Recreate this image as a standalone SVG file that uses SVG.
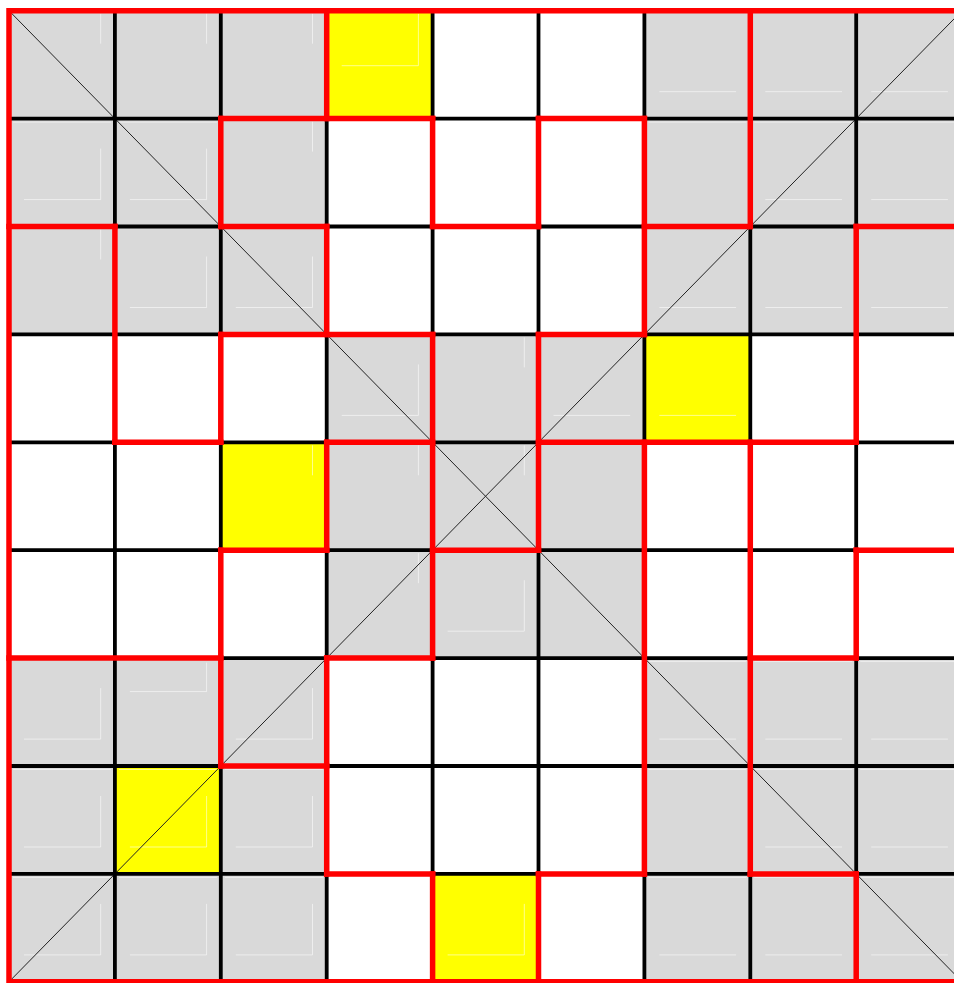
<svg xmlns="http://www.w3.org/2000/svg" width="954" height="983" viewBox="0 0 954 983">
<style>
.gray{fill:#d9d9d9}
.yellow{fill:#ffff00}
.mark{fill:none;stroke:#ffffff;stroke-opacity:0.55;stroke-width:1}
.diag{fill:none;stroke:#222;stroke-width:1}
.grid{fill:none;stroke:#000;stroke-width:3.8}
.region{fill:none;stroke:#ff0000;stroke-width:5.5;stroke-linecap:square}
</style>
<rect width="954" height="983" fill="#ffffff"/>
<g id="boxes">
<rect id="box-top-left" class="gray" x="9" y="10.7" width="317.7" height="323.7"/>
<rect id="box-top-right" class="gray" x="644.4" y="10.7" width="317.7" height="323.7"/>
<rect id="box-center" class="gray" x="326.7" y="334.4" width="317.7" height="323.7"/>
<rect id="box-bottom-left" class="gray" x="9" y="658.1" width="317.7" height="323.7"/>
<rect id="box-bottom-right" class="gray" x="644.4" y="658.1" width="317.7" height="323.7"/>
</g>
<g id="highlights">
<rect id="cell-r0c3" class="yellow" x="326.7" y="10.7" width="105.9" height="107.9"/>
<rect id="cell-r3c6" class="yellow" x="644.4" y="334.4" width="105.9" height="107.9"/>
<rect id="cell-r4c2" class="yellow" x="220.8" y="442.3" width="105.9" height="107.9"/>
<rect id="cell-r7c1" class="yellow" x="114.9" y="766" width="105.9" height="107.9"/>
<rect id="cell-r8c4" class="yellow" x="432.6" y="873.9" width="105.9" height="107.9"/>
</g>
<g id="marks">
<path class="mark" d="M100.7 13.7V43.7 M206.6 13.7V43.7 M312.5 13.7V43.7 M418.4 13.7V65.7H341.7 M659.4 91.7H736.1 M765.3 91.7H842 M871.2 91.7H947.9"/>
<path class="mark" d="M100.7 148.6V199.6H24 M13 122.1H111 M206.6 148.6V199.6H129.9 M118.9 122.1H216.9 M312.5 121.6V151.6 M648.4 122.1H746.4 M765.3 199.6H842 M754.3 122.1H852.3 M871.2 199.6H947.9 M860.2 122.1H958.2"/>
<path class="mark" d="M100.7 229.5V259.5 M206.6 256.5V307.5H129.9 M312.5 256.5V307.5H235.8 M659.4 307.5H736.1 M765.3 307.5H842 M871.2 307.5H947.9"/>
<path class="mark" d="M418.4 364.4V415.4H341.7 M524.3 337.4V367.4 M553.5 415.4H630.2 M659.4 415.4H736.1"/>
<path class="mark" d="M312.5 445.3V475.3 M418.4 445.3V475.3 M524.3 445.3V475.3 M418.4 553.2V583.2 M524.3 580.2V631.2H447.6"/>
<path class="mark" d="M100.7 688.1V739.1H24 M206.6 662.6V691.6H129.9 M312.5 688.1V739.1H235.8 M659.4 739.1H736.1 M648.4 661.6H746.4 M765.3 739.1H842 M754.3 661.6H852.3 M871.2 739.1H947.9 M860.2 661.6H958.2"/>
<path class="mark" d="M100.7 796V847H24 M13 769.5H111 M206.6 796V847H129.9 M118.9 769.5H216.9 M312.5 796V847H235.8 M224.8 769.5H322.8 M765.3 847H842 M754.3 769.5H852.3 M871.2 847H947.9 M860.2 769.5H958.2 M648.4 769.5H746.4"/>
<path class="mark" d="M100.7 903.9V954.9H24 M13 877.4H111 M206.6 903.9V954.9H129.9 M118.9 877.4H216.9 M312.5 903.9V954.9H235.8 M224.8 877.4H322.8 M524.3 903.9V954.9H447.6 M659.4 954.9H736.1 M648.4 877.4H746.4 M765.3 954.9H842 M754.3 877.4H852.3 M871.2 954.9H947.9 M860.2 877.4H958.2"/>
</g>
<g id="diagonals">
<line class="diag" x1="9" y1="10.7" x2="962.1" y2="981.8"/>
<line class="diag" x1="9" y1="981.8" x2="962.1" y2="10.7"/>
</g>
<g id="grid">
<path class="grid" d="M114.9 10.7V981.8 M220.8 10.7V981.8 M326.7 10.7V981.8 M432.6 10.7V981.8 M538.5 10.7V981.8 M644.4 10.7V981.8 M750.3 10.7V981.8 M856.2 10.7V981.8 M9 118.6H962.1 M9 226.5H962.1 M9 334.4H962.1 M9 442.3H962.1 M9 550.2H962.1 M9 658.1H962.1 M9 766H962.1 M9 873.9H962.1"/>
</g>
<g id="regions">
<path class="region" d="M9 10.7H962.1 M9 981.8H962.1 M9 10.7V981.8 M962.1 10.7V981.8"/>
<path class="region" d="M220.8 118.6H432.6 M538.5 118.6H644.4 M9 226.5H114.9 M220.8 226.5H326.7 M432.6 226.5H538.5 M644.4 226.5H750.3 M856.2 226.5H962.1 M220.8 334.4H432.6 M538.5 334.4H644.4 M114.9 442.3H220.8 M326.7 442.3H432.6 M538.5 442.3H856.2 M220.8 550.2H326.7 M432.6 550.2H538.5 M856.2 550.2H962.1 M9 658.1H220.8 M326.7 658.1H432.6 M750.3 658.1H856.2 M220.8 766H326.7 M326.7 873.9H432.6 M538.5 873.9H644.4 M750.3 873.9H856.2"/>
<path class="region" d="M114.9 226.5V442.3 M220.8 118.6V226.5 M220.8 334.4V442.3 M220.8 550.2V766 M326.7 10.7V118.6 M326.7 226.5V334.4 M326.7 442.3V550.2 M326.7 658.1V873.9 M432.6 118.6V226.5 M432.6 334.4V658.1 M432.6 873.9V981.8 M538.5 118.6V226.5 M538.5 334.4V550.2 M538.5 873.9V981.8 M644.4 118.6V334.4 M644.4 442.3V873.9 M750.3 10.7V226.5 M750.3 442.3V873.9 M856.2 226.5V442.3 M856.2 550.2V658.1 M856.2 873.9V981.8"/>
</g>
</svg>
